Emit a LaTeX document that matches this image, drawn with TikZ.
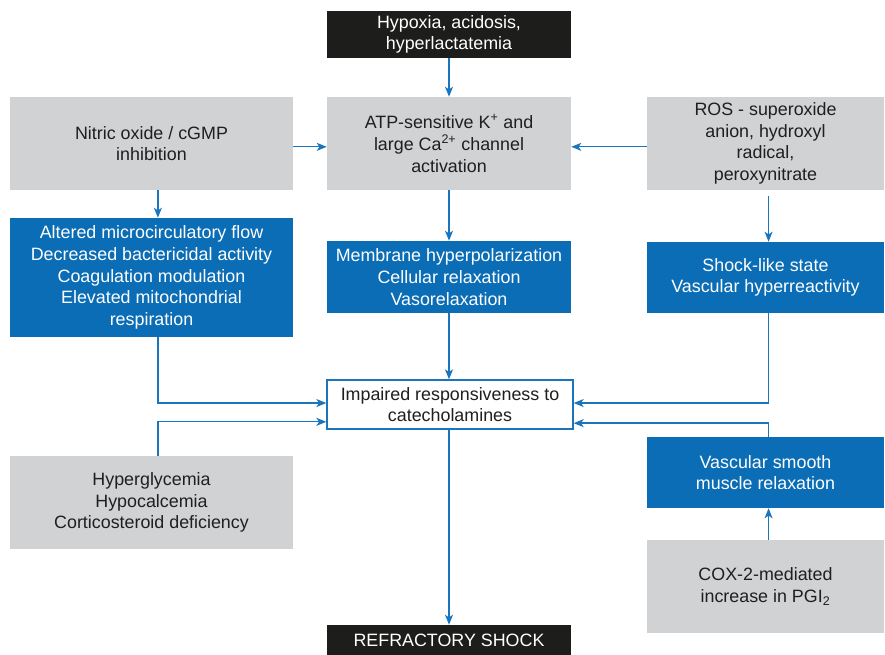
\documentclass[tikz,border=0pt]{standalone}
\usepackage{xcolor}
\usepackage{fontspec}
\setmainfont{Liberation Sans}
\usepackage{tikz}
\usetikzlibrary{positioning}
\usetikzlibrary{arrows.meta}
\definecolor{boxgrey}{HTML}{D1D2D4}
\definecolor{boxblue}{HTML}{0A6DB5}
\definecolor{boxdark}{HTML}{1D1D1B}
\definecolor{lineblue}{HTML}{1B75BC}
\tikzset{edge/.style = {-{Stealth[length=7.5pt,width=6pt,inset=2pt]}, draw=lineblue, line width=1pt}}

\begin{document}
\begin{tikzpicture}[x=0.75pt,y=-0.75pt,
    every node/.style={align=center,inner sep=0pt,font=\fontsize{13.4}{16.3}\selectfont},
    grey node/.style={fill=boxgrey,text=black!88},
    blue node/.style={fill=boxblue,text=white},
    dark node/.style={fill=boxdark,text=white},
    key node/.style={fill=white,draw=lineblue,line width=1pt,text=black!88}]
    \useasboundingbox (0,0) rectangle (885,655);

    % top row
    \node[dark node,minimum width=183pt,minimum height=35.25pt] (cause) at (449,34.5) {Hypoxia, acidosis,\\hyperlactatemia};
    \node[grey node,minimum width=183pt,minimum height=69.75pt] (atp) at (449,143.5) {ATP-sensitive K\textsuperscript{+} and\\large Ca\textsuperscript{2+} channel\\activation};
    \node[grey node,minimum width=212.25pt,minimum height=69.75pt] (no) at (151.5,143.5) {Nitric oxide / cGMP\\inhibition};
    \node[grey node,minimum width=177.75pt,minimum height=69.75pt] (ros) at (765.5,143.5) {ROS - superoxide\\anion, hydroxyl\\radical,\\peroxynitrate};

    % effects
    \node[blue node,minimum width=212.25pt,minimum height=89.25pt] (flow) at (151.5,277.5) {Altered microcirculatory flow\\Decreased bactericidal activity\\Coagulation modulation\\Elevated mitochondrial\\respiration};
    \node[blue node,minimum width=183pt,minimum height=54pt] (memb) at (449,277) {Membrane hyperpolarization\\Cellular relaxation\\Vasorelaxation};
    \node[blue node,minimum width=177.75pt,minimum height=53.25pt] (shock) at (765.5,277.5) {Shock-like state\\Vascular hyperreactivity};

    % centre
    \node[key node,minimum width=184.5pt,minimum height=36.75pt] (imp) at (450,404.5) {Impaired responsiveness to\\catecholamines};

    % lower row
    \node[grey node,minimum width=212.25pt,minimum height=69.75pt] (hyper) at (151.5,502.5) {Hyperglycemia\\Hypocalcemia\\Corticosteroid deficiency};
    \node[blue node,minimum width=177.75pt,minimum height=53.25pt] (vsm) at (765.5,472.5) {Vascular smooth\\muscle relaxation};
    \node[grey node,minimum width=177.75pt,minimum height=69.75pt] (cox) at (765.5,586.5) {COX-2-mediated\\increase in PGI\textsubscript{2}};
    \node[dark node,minimum width=183pt,minimum height=22.5pt] (refr) at (449,640) {REFRACTORY SHOCK};

    \draw[edge] (cause) -- (atp);
    \draw[edge] ([yshift=-2.5pt]no.east) -- ([yshift=-2.5pt]atp.west);
    \draw[edge] ([yshift=-2.5pt]ros.west) -- ([yshift=-2.5pt]atp.east);
    \draw[edge] ([xshift=4.8pt]no.south) -- ([xshift=4.8pt]flow.north);
    \draw[edge] (atp) -- (memb);
    \draw[edge,shorten <=4.5pt] ([xshift=2.3pt]ros.south) -- ([xshift=2.3pt]shock.north);
    \draw[edge] ([xshift=4.8pt]flow.south) |- ([yshift=1.1pt]imp.west);
    \draw[edge] ([xshift=4.8pt]hyper.north) |- ([yshift=-13pt]imp.west);
    \draw[edge] (memb.south) -- (memb.south |- imp.north);
    \draw[edge] ([xshift=2.3pt]shock.south) |- ([yshift=1.1pt]imp.east);
    \draw[edge] ([xshift=2.3pt]vsm.north) |- ([yshift=-14pt]imp.east);
    \draw[edge] ([xshift=2.3pt]cox.north) -- ([xshift=2.3pt]vsm.south);
    \draw[edge] (imp.south -| refr.north) -- (refr);
\end{tikzpicture}
\end{document}
